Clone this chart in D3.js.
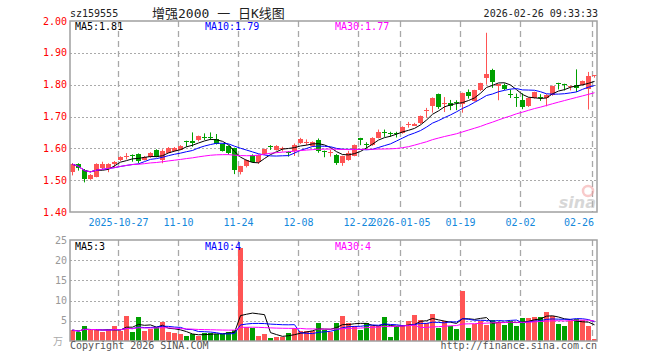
<!DOCTYPE html>
<html>
<head>
<meta charset="utf-8">
<script src="https://cdn.jsdelivr.net/npm/d3@7"></script>
<style>
  body { margin: 0; background: #fff; }
  text { font-family: "DejaVu Sans Mono", "Liberation Mono", monospace; font-size: 10px; }
</style>
</head>
<body>
<script>
// trading days shown (one candle per day)
const dates = [
  "2025-10-15","2025-10-16","2025-10-17","2025-10-20","2025-10-21","2025-10-22","2025-10-23","2025-10-24",
  "2025-10-27","2025-10-28","2025-10-29","2025-10-30","2025-10-31",
  "2025-11-03","2025-11-04","2025-11-05","2025-11-06","2025-11-07","2025-11-10","2025-11-11","2025-11-12",
  "2025-11-13","2025-11-14","2025-11-17","2025-11-18","2025-11-19","2025-11-20","2025-11-21","2025-11-24",
  "2025-11-25","2025-11-26","2025-11-27","2025-11-28",
  "2025-12-01","2025-12-02","2025-12-03","2025-12-04","2025-12-05","2025-12-08","2025-12-09","2025-12-10",
  "2025-12-11","2025-12-12","2025-12-15","2025-12-16","2025-12-17","2025-12-18","2025-12-19","2025-12-22",
  "2025-12-23","2025-12-24","2025-12-25","2025-12-26","2025-12-29","2025-12-30",
  "2026-01-05","2026-01-06","2026-01-07","2026-01-08","2026-01-09","2026-01-12","2026-01-13","2026-01-14",
  "2026-01-15","2026-01-16","2026-01-19","2026-01-20","2026-01-21","2026-01-22","2026-01-23","2026-01-26",
  "2026-01-27","2026-01-28","2026-01-29","2026-01-30",
  "2026-02-02","2026-02-03","2026-02-04","2026-02-05","2026-02-06","2026-02-09","2026-02-10","2026-02-11",
  "2026-02-12","2026-02-13","2026-02-24","2026-02-25","2026-02-26"
];

const opens = [
  1.524,1.550,1.532,1.504,1.511,1.537,1.537,1.553,1.563,1.572,
  1.580,1.581,1.565,1.572,1.595,1.563,1.587,1.593,1.597,1.623,
  1.622,1.624,1.636,1.635,1.628,1.613,1.607,1.600,1.524,1.543,
  1.579,1.558,1.581,1.606,1.595,1.598,1.590,1.592,1.616,1.619,
  1.607,1.626,1.592,1.588,1.580,1.553,1.563,1.576,1.631,1.614,
  1.610,1.633,1.650,1.648,1.647,1.648,1.674,1.673,1.678,1.718,
  1.734,1.770,1.740,1.741,1.744,1.740,1.777,1.749,1.782,1.821,
  1.845,1.794,1.800,1.771,1.762,1.751,1.732,1.758,1.760,1.758,
  1.767,1.804,1.801,1.793,1.800,1.800,1.785,1.826
];
const highs = [
  1.553,1.553,1.535,1.519,1.553,1.558,1.553,1.560,1.575,1.585,
  1.581,1.584,1.576,1.588,1.597,1.597,1.604,1.604,1.610,1.624,
  1.650,1.640,1.647,1.650,1.645,1.615,1.609,1.602,1.545,1.565,
  1.581,1.581,1.599,1.610,1.610,1.605,1.591,1.615,1.633,1.628,
  1.622,1.631,1.593,1.595,1.582,1.577,1.592,1.612,1.633,1.619,
  1.635,1.659,1.659,1.652,1.652,1.669,1.683,1.680,1.703,1.727,
  1.760,1.772,1.761,1.752,1.751,1.775,1.785,1.784,1.806,1.963,
  1.850,1.802,1.804,1.785,1.772,1.773,1.760,1.778,1.770,1.770,
  1.797,1.806,1.803,1.797,1.848,1.813,1.840,1.830
];
const lows = [
  1.515,1.530,1.493,1.501,1.509,1.535,1.525,1.541,1.560,1.565,
  1.558,1.553,1.562,1.570,1.572,1.553,1.585,1.590,1.595,1.605,
  1.605,1.622,1.626,1.626,1.612,1.590,1.580,1.519,1.518,1.540,
  1.555,1.551,1.579,1.595,1.593,1.590,1.574,1.576,1.614,1.610,
  1.605,1.586,1.572,1.574,1.548,1.545,1.561,1.575,1.610,1.600,
  1.608,1.631,1.636,1.636,1.634,1.646,1.665,1.671,1.676,1.696,
  1.712,1.724,1.714,1.720,1.720,1.712,1.756,1.747,1.780,1.800,
  1.790,1.751,1.783,1.758,1.730,1.723,1.730,1.756,1.749,1.732,
  1.765,1.785,1.782,1.782,1.777,1.798,1.722,1.822
];
const closes = [
  1.550,1.537,1.503,1.515,1.551,1.550,1.551,1.558,1.573,1.575,
  1.578,1.558,1.574,1.586,1.574,1.592,1.602,1.602,1.608,1.620,
  1.616,1.638,1.634,1.633,1.613,1.592,1.584,1.530,1.543,1.563,
  1.558,1.579,1.597,1.604,1.608,1.600,1.589,1.610,1.630,1.621,
  1.620,1.592,1.590,1.590,1.556,1.575,1.586,1.610,1.624,1.612,
  1.633,1.651,1.648,1.646,1.645,1.667,1.677,1.678,1.701,1.721,
  1.758,1.730,1.742,1.731,1.742,1.773,1.763,1.783,1.804,1.833,
  1.806,1.801,1.786,1.769,1.760,1.730,1.758,1.777,1.758,1.768,
  1.795,1.802,1.799,1.795,1.790,1.811,1.826,1.829
];
const volumes = [
  2.7,2.2,3.8,2.7,2.7,2.2,2.6,3.6,2.5,6.2,
  2.2,6.0,2.5,3.0,3.4,4.6,2.2,1.9,1.7,1.2,
  1.7,1.2,2.1,2.1,1.75,1.75,2.2,2.75,23.0,3.4,
  3.2,1.25,1.75,0.75,1.0,1.0,2.0,3.1,2.5,2.5,
  2.5,4.5,2.75,2.3,4.5,6.25,4.5,3.8,2.75,4.5,
  3.8,3.8,6.0,1.0,3.8,4.0,5.0,6.5,5.1,4.5,
  6.75,3.3,5.0,3.7,3.0,12.5,3.3,4.2,5.0,4.0,
  5.2,4.8,4.0,5.0,3.8,5.75,5.75,6.0,6.0,7.25,
  6.2,4.25,3.75,5.0,5.5,5.3,3.75,0.5
];

const tickDates = ["2025-10-27","2025-11-10","2025-11-24","2025-12-08","2025-12-22","2026-01-05","2026-01-19","2026-02-02","2026-02-26"];
const tickLabels = ["2025-10-27","11-10","11-24","12-08","12-22","2026-01-05","01-19","02-02","02-26"];
const priceTicks = [1.40, 1.50, 1.60, 1.70, 1.80, 1.90, 2.00];
const volTicks = [5, 10, 15, 20, 25];
const priceLegend = ["MA5:1.81", "MA10:1.79", "MA30:1.77"];
const volLegend = ["MA5:3", "MA10:4", "MA30:4"];

const width = 660, height = 360;
const left = 70, right = 597;
const mainTop = 21, mainBottom = 212;
const volTop = 240, volBottom = 341;
const RED = "#ff5454", GREEN = "#00a000";
const maColors = ["#000000", "#0000ff", "#ff00ff"];
const maPeriods = [5, 10, 30];

// moving average, partial window at the start
function movingAvg(arr, n) {
  return arr.map((d, i) => d3.mean(arr.slice(Math.max(0, i - n + 1), i + 1)));
}

const svg = d3.select("body").append("svg")
  .attr("width", width)
  .attr("height", height);

const x = d3.scaleBand()
  .domain(dates)
  .range([left, right])
  .paddingInner(1 / 6)
  .paddingOuter(0);
const bw = x.bandwidth();

const y = d3.scaleLinear().domain([1.40, 2.00]).range([mainBottom, mainTop]);
const yv = d3.scaleLinear().domain([0, 25]).range([volBottom, volTop]);

svg.append("defs").append("clipPath").attr("id", "clipMain")
  .append("rect").attr("x", left).attr("y", mainTop).attr("width", right - left).attr("height", mainBottom - mainTop);
svg.select("defs").append("clipPath").attr("id", "clipVol")
  .append("rect").attr("x", left).attr("y", volTop).attr("width", right - left).attr("height", volBottom - volTop);

// header
svg.append("text").attr("x", 70).attr("y", 17).attr("fill", "#222").text("sz159555");
svg.append("text").attr("x", 152).attr("y", 18).attr("fill", "#222")
  .style("font-family", "'DejaVu Sans Mono','Noto Sans CJK SC',monospace")
  .style("font-size", "13px")
  .text("增强2000 一 日K线图");
svg.append("text").attr("x", 598).attr("y", 17).attr("text-anchor", "end").attr("fill", "#222")
  .text("2026-02-26 09:33:33");

// grid: horizontal dotted lines
svg.append("g").selectAll("line")
  .data(priceTicks.slice(1, -1))
  .join("line")
  .attr("x1", left).attr("x2", right)
  .attr("y1", d => Math.round(y(d)) + 0.5).attr("y2", d => Math.round(y(d)) + 0.5)
  .attr("stroke", "#aaa").attr("stroke-dasharray", "2,2");

svg.append("g").selectAll("line")
  .data(volTicks.slice(0, -1))
  .join("line")
  .attr("x1", left).attr("x2", right)
  .attr("y1", d => Math.round(yv(d)) + 0.5).attr("y2", d => Math.round(yv(d)) + 0.5)
  .attr("stroke", "#aaa").attr("stroke-dasharray", "2,2");

// grid: vertical dashed lines at tick dates (both panels)
[[mainTop, mainBottom], [volTop, volBottom]].forEach(([t, b]) => {
  svg.append("g").selectAll("line")
    .data(tickDates)
    .join("line")
    .attr("x1", d => x(d) + 0.5).attr("x2", d => x(d) + 0.5)
    .attr("y1", t).attr("y2", b)
    .attr("stroke", "#a8a8a8").attr("stroke-width", 1.3).attr("stroke-dasharray", "6,4");
});

// price axis labels
svg.append("g").selectAll("text")
  .data(priceTicks)
  .join("text")
  .attr("x", 67).attr("y", d => y(d)).attr("dy", "0.35em")
  .attr("text-anchor", "end").attr("fill", "#f00")
  .text(d => d.toFixed(2));

// volume axis labels
svg.append("g").selectAll("text")
  .data(volTicks)
  .join("text")
  .attr("x", 67).attr("y", d => yv(d)).attr("dy", "0.35em")
  .attr("text-anchor", "end").attr("fill", "#999")
  .text(d => d);
svg.append("text").attr("x", 63).attr("y", volBottom + 4).attr("text-anchor", "end")
  .attr("fill", "#aaa").style("font-family", "'Noto Sans CJK SC',sans-serif").text("万");

// date labels, kept inside the frame
svg.append("g").selectAll("text")
  .data(tickDates)
  .join("text")
  .attr("x", (d, i) => {
    const w = tickLabels[i].length * 6;
    return Math.min(x(d) + 0.5, right - 3 - w / 2);
  })
  .attr("y", 226)
  .attr("text-anchor", "middle").attr("fill", "#1488dc")
  .text((d, i) => tickLabels[i]);

// sina watermark
const wm = svg.append("g").attr("opacity", 0.55);
wm.append("circle").attr("cx", 588).attr("cy", 191).attr("r", 5).attr("fill", "none").attr("stroke", "#f3a0a0").attr("stroke-width", 2.5);
wm.append("text").attr("x", 596).attr("y", 208).attr("text-anchor", "end")
  .style("font-family", "'DejaVu Sans',sans-serif").style("font-size", "16px")
  .style("font-weight", "bold").style("font-style", "italic")
  .attr("fill", "#b8b8b8").text("sina");

// candles
const candles = svg.append("g").attr("clip-path", "url(#clipMain)")
  .selectAll("g")
  .data(dates.map((d, i) => ({ date: d, o: opens[i], h: highs[i], l: lows[i], c: closes[i] })))
  .join("g");

candles.append("line")
  .attr("x1", d => x(d.date) + 2.5).attr("x2", d => x(d.date) + 2.5)
  .attr("y1", d => y(d.h)).attr("y2", d => y(d.l))
  .attr("stroke", d => d.c >= d.o ? RED : GREEN);

candles.append("rect")
  .attr("x", d => x(d.date))
  .attr("y", d => Math.round(y(Math.max(d.o, d.c))))
  .attr("width", bw)
  .attr("height", d => Math.max(1, Math.round(Math.abs(y(d.o) - y(d.c)))))
  .attr("fill", d => d.c >= d.o ? RED : GREEN);

// price moving averages
maPeriods.forEach((n, k) => {
  const ma = movingAvg(closes, n);
  const line = d3.line()
    .x((d, i) => x(dates[i]) + bw / 2)
    .y(d => y(d));
  svg.append("path")
    .attr("clip-path", "url(#clipMain)")
    .attr("d", line(ma))
    .attr("fill", "none").attr("stroke", maColors[k]).attr("stroke-width", 1);
});

// volume bars
svg.append("g").attr("clip-path", "url(#clipVol)")
  .selectAll("rect")
  .data(volumes)
  .join("rect")
  .attr("x", (d, i) => x(dates[i]))
  .attr("y", d => Math.round(yv(d)))
  .attr("width", bw)
  .attr("height", d => volBottom - Math.round(yv(d)))
  .attr("fill", (d, i) => closes[i] >= opens[i] ? RED : GREEN);

// volume moving averages
maPeriods.forEach((n, k) => {
  const ma = movingAvg(volumes, n);
  const line = d3.line()
    .x((d, i) => x(dates[i]) + bw / 2)
    .y(d => yv(d));
  svg.append("path")
    .attr("clip-path", "url(#clipVol)")
    .attr("d", line(ma))
    .attr("fill", "none").attr("stroke", maColors[k]).attr("stroke-width", 1);
});

// frames
svg.append("rect").attr("x", left).attr("y", mainTop).attr("width", right - left).attr("height", mainBottom - mainTop)
  .attr("fill", "none").attr("stroke", "#a0a0a0").attr("stroke-width", 1.5);
svg.append("rect").attr("x", left).attr("y", volTop).attr("width", right - left).attr("height", volBottom - volTop)
  .attr("fill", "none").attr("stroke", "#a0a0a0").attr("stroke-width", 1.5);

// legends
[0, 1, 2].forEach(k => {
  svg.append("text").attr("x", 75 + 130 * k).attr("y", 30).attr("fill", maColors[k]).text(priceLegend[k]);
  svg.append("text").attr("x", 75 + 130 * k).attr("y", 250).attr("fill", maColors[k]).text(volLegend[k]);
});

// footer
svg.append("text").attr("x", 70).attr("y", 349).attr("fill", "#555").text("Copyright 2026 SINA.COM");
svg.append("text").attr("x", 597).attr("y", 349).attr("text-anchor", "end").attr("fill", "#555").text("http://finance.sina.com.cn");
</script>
</body>
</html>
